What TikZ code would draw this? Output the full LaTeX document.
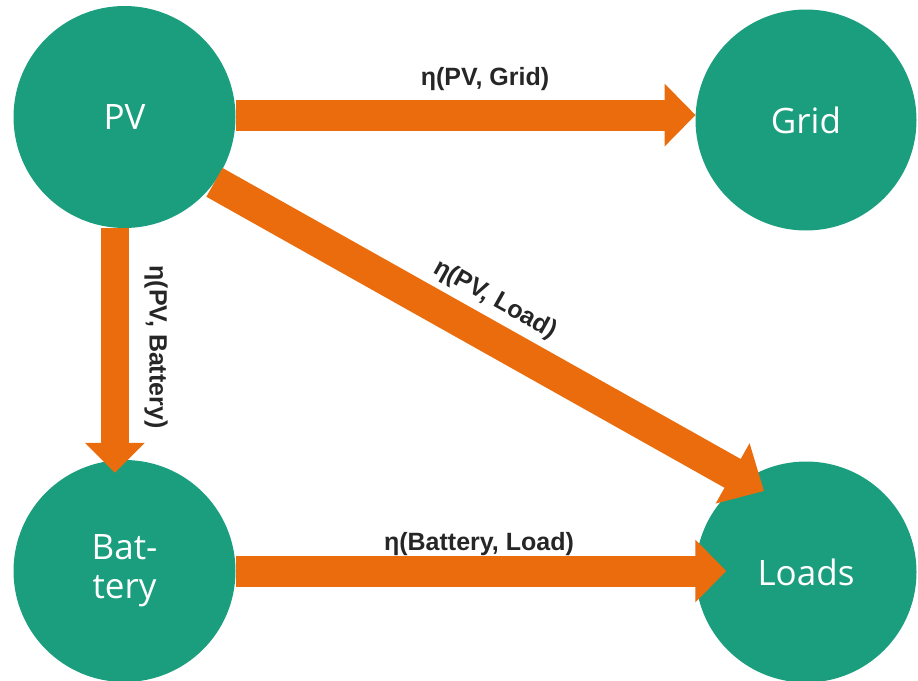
\documentclass[tikz,border=0pt]{standalone}
\usepackage{fontspec}
\setmainfont{Open Sans}
\newfontfamily\labelfont{Liberation Sans}
\usetikzlibrary{arrows.meta,calc}
\definecolor{teal1}{RGB}{26,158,126}
\definecolor{flow}{RGB}{234,108,12}
\begin{document}
\begin{tikzpicture}[x=1pt,y=-1pt,
  station/.style={circle,fill=teal1,text=white,minimum size=222pt,inner sep=0pt,
    font=\fontsize{35}{39}\selectfont,align=center},
  flowarrow/.style={draw=flow,line width=31pt,-{Triangle[length=31pt,width=61pt]}},
  flowlabel/.style={font=\labelfont\bfseries\fontsize{25}{29}\selectfont,text=black!85,inner sep=0pt}]
\path[use as bounding box] (0,0) rectangle (918,680);
\node[station] (pv) at (124.5,117) {PV};
\node[station,minimum size=221pt] (grid) at (806,120) {Grid};
\node[station] (battery) at (124.5,571) {Bat-\\tery};
\node[station,minimum size=221pt] (loads) at (806,572) {Loads};
% arrows
\draw[flowarrow] (pv.1.8) -- (pv.1.8 -| grid.176.6);
\draw[flowarrow,line width=28pt,-{Triangle[length=30pt,width=58pt]}] (pv.265.6) -- ($(pv.265.6 |- battery.north)+(0,13)$);
\draw[flowarrow] (battery.east) -- ($(battery.east -| loads.west)+(31,0)$);
\draw[flowarrow,line width=33pt,-{Triangle[length=36pt,width=67pt]}] (pv.-36.5) -- ($(loads.center)+(-42,-81)$);
% labels
\node[flowlabel] (lpg) at (485,79) {η(PV, Grid)};
\node[flowlabel] (lbl) at (479,544) {η(Battery, Load)};
\node[flowlabel,rotate=-90] (lpb) at (156,347) {η(PV, Battery)};
\node[flowlabel,rotate=-29.3] (lpl) at (495,300) {η(PV, Load)};
\end{tikzpicture}
\end{document}
